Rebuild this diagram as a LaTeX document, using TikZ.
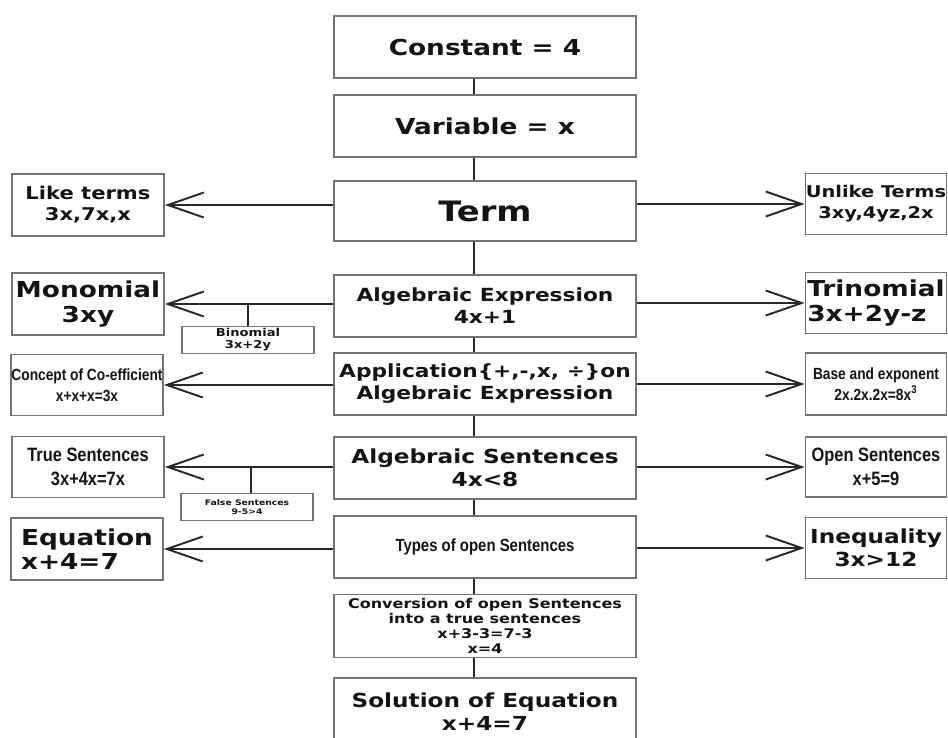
\documentclass[tikz,border=0pt]{standalone}
\usepackage{xcolor}
\usepackage{fontspec}
\usepackage{tikz}
\usetikzlibrary{arrows.meta, positioning, calc}
\newfontfamily\widefont[FakeStretch=1.2]{DejaVu Sans}
\newfontfamily\narrowfont[FakeStretch=0.85]{Liberation Sans}
\definecolor{mydark}{RGB}{40,40,40}
\definecolor{myborder}{RGB}{115,115,115}
\definecolor{mytext}{RGB}{20,20,20}
\tikzset{
  cbox/.style={rectangle, draw=myborder, line width=1pt, inner sep=0pt,
    minimum width=6.04cm, align=center, text=mytext},
  lbox/.style={rectangle, draw=myborder, line width=1pt, inner sep=0pt,
    minimum width=3.04cm, minimum height=1.24cm, align=center, text=mytext},
  rbox/.style={rectangle, draw=myborder, line width=1pt, inner sep=0pt,
    minimum width=2.82cm, minimum height=1.22cm, align=center, text=mytext},
  tinybox/.style={rectangle, draw=myborder, line width=0.8pt, inner sep=0pt,
    minimum width=2.64cm, minimum height=0.53cm, align=center, text=mytext},
  fhuge/.style={font=\widefont\bfseries\fontsize{16}{18}\selectfont},
  fbig/.style={font=\widefont\bfseries\fontsize{12.5}{14}\selectfont},
  fmid/.style={font=\widefont\bfseries\fontsize{11}{13}\selectfont},
  fexp/.style={font=\widefont\bfseries\fontsize{10.3}{12.6}\selectfont},
  flbl/.style={font=\widefont\bfseries\fontsize{10}{12}\selectfont},
  fsml/.style={font=\widefont\bfseries\fontsize{9.2}{12}\selectfont},
  fconv/.style={font=\widefont\bfseries\fontsize{7.6}{8.6}\selectfont},
  ftiny/.style={font=\widefont\bfseries\fontsize{6.2}{6.8}\selectfont},
  fmicro/.style={font=\widefont\bfseries\fontsize{4.4}{5}\selectfont},
  nbig/.style={font=\narrowfont\bfseries\fontsize{11}{14}\selectfont},
  nmid/.style={font=\narrowfont\bfseries\fontsize{10}{12}\selectfont},
  nsmall/.style={font=\narrowfont\bfseries\fontsize{9.2}{12}\selectfont},
  arrow/.style={-{Straight Barb[length=0.72cm, width=0.5cm]}, line width=1.1pt, color=mydark},
  line/.style={line width=1.1pt, color=mydark}
}

\begin{document}
\begin{tikzpicture}[x=0.02cm, y=-0.02cm]
  \useasboundingbox (0,0) rectangle (948,738);
  \clip (0,0) rectangle (948,738);
  % middle column
  \node[cbox, fbig, minimum height=1.24cm] (const) at (485,47) {Constant = 4};
  \node[cbox, fbig, minimum height=1.24cm] (var) at (485,126) {Variable = x};
  \node[cbox, fhuge, minimum height=1.20cm] (term) at (485,211) {Term};
  \node[cbox, fexp, minimum height=1.24cm] (algexp) at (485,306) {Algebraic Expression\\4x+1};
  \node[cbox, fexp, minimum height=1.24cm] (appl) at (485,384) {Application\{+,-,x, ÷\}on\\Algebraic Expression};
  \node[cbox, fmid, minimum height=1.24cm] (algsent) at (485,468) {Algebraic Sentences\\4x<8};
  \node[cbox, nmid, minimum height=1.24cm] (types) at (485,547) {Types of open Sentences};
  \node[cbox, fconv, minimum height=1.26cm] (conv) at (485,626) {Conversion of open Sentences\\into a true sentences\\x+3-3=7-3\\x=4};
  \node[cbox, fmid, minimum height=1.36cm] (sol) at (485,712) {Solution of Equation\\x+4=7};
  % left column
  \node[lbox, flbl] (like) at (88,205) {Like terms\\3x,7x,x};
  \node[lbox, fbig] (mono) at (88,304) {Monomial\\3xy};
  \node[lbox, nsmall, minimum height=1.22cm] (coef) at (87,385) {Concept of Co-efficient\\x+x+x=3x};
  \node[lbox, nbig, minimum height=1.22cm] (truesent) at (88,467) {True Sentences\\3x+4x=7x};
  \node[lbox, fbig, align=left] (eq) at (87,549) {Equation\\x+4=7};
  \node[tinybox, ftiny] (bino) at (248,340) {Binomial\\3x+2y};
  \node[tinybox, fmicro] (falsesent) at (247,507) {False Sentences\\9-5>4};
  % right column
  \node[rbox, fsml] (unlike) at (876,204) {Unlike Terms\\3xy,4yz,2x};
  \node[rbox, fbig, align=left] (tri) at (876,303) {Trinomial\\3x+2y-z};
  \node[rbox, nsmall, minimum height=1.24cm] (base) at (876,384) {Base and exponent\\2x.2x.2x=8x\textsuperscript{3}};
  \node[rbox, nbig, minimum height=1.20cm] (opensent) at (876,467) {Open Sentences\\x+5=9};
  \node[rbox, fmid] (ineq) at (876,548) {Inequality\\3x>12};
  % trunk
  \foreach \a/\b in {const/var, var/term, term/algexp, algexp/appl, appl/algsent, algsent/types, types/conv, conv/sol}
    \draw[line] ([xshift=-0.22cm]\a.south) -- ([xshift=-0.22cm]\b.north);
  % branches
  \foreach \c/\l/\r in {term/like/unlike, algexp/mono/tri, appl/coef/base, algsent/truesent/opensent, types/eq/ineq} {
    \draw[arrow] (\c.west |- \l.east) -- (\l.east);
    \draw[arrow] (\c.east |- \r.west) -- (\r.west);
  }
  \draw[line] (bino.north) -- (bino.north |- mono.east);
  \draw[line] ([xshift=0.08cm]falsesent.north) -- ([xshift=0.08cm]falsesent.north |- truesent.east);
\end{tikzpicture}
\end{document}
